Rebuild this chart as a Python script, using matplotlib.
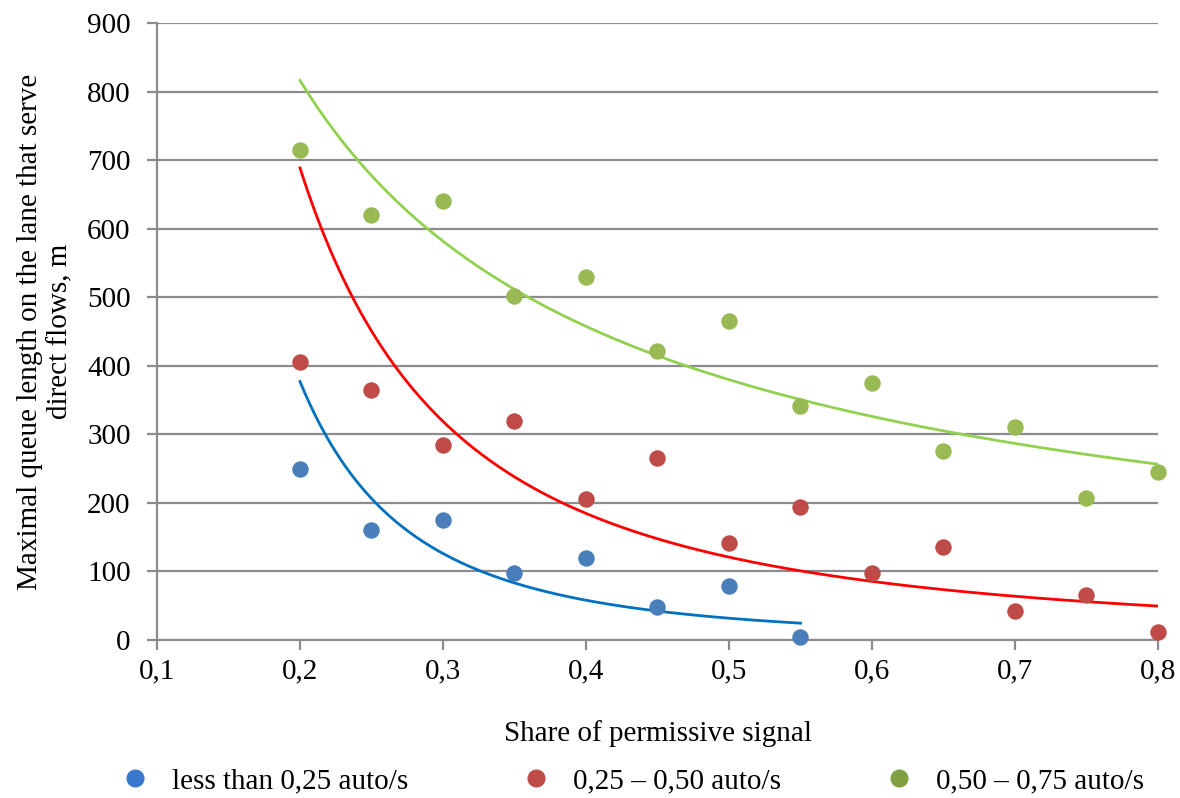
import numpy as np
import matplotlib.pyplot as plt
from matplotlib.lines import Line2D

plt.rcParams['font.family'] = ['Liberation Serif', 'DejaVu Serif']

share = [0.2, 0.25, 0.3, 0.35, 0.4, 0.45, 0.5, 0.55, 0.6, 0.65, 0.7, 0.75, 0.8]
queue_low = [250, 160, 175, 98, 120, 48, 79, 5]
queue_mid = [405, 365, 285, 320, 205, 265, 141, 194, 98, 135, 42, 65, 12]
queue_high = [715, 620, 640, 502, 530, 421, 465, 341, 375, 276, 311, 207, 245]

labels = ['less than 0,25 auto/s', '0,25 – 0,50 auto/s', '0,50 – 0,75 auto/s']
point_colors = ['#4a7ebb', '#be4b48', '#98b954']
legend_colors = ['#3a78d0', '#be4b48', '#80a040']
line_colors = ['#0070c0', '#ff0000', '#92d050']
x_ticks = [0.1, 0.2, 0.3, 0.4, 0.5, 0.6, 0.7, 0.8]
y_ticks = [0, 100, 200, 300, 400, 500, 600, 700, 800, 900]

FS = 21

fig = plt.figure(figsize=(11.8, 7.98), dpi=100)
ax = fig.add_axes([157 / 1180, 1 - 640 / 798, (1158 - 157) / 1180, (640 - 23) / 798])

series = [queue_low, queue_mid, queue_high]
for ys, pc, lc in zip(series, point_colors, line_colors):
    xs = np.array(share[:len(ys)])
    ys = np.array(ys, dtype=float)
    ax.scatter(xs, ys, s=140, color=pc, zorder=3, linewidths=0, clip_on=False)
    # power trendline (log-log least squares, like Excel)
    b, ln_a = np.polyfit(np.log(xs), np.log(ys), 1)
    xf = np.linspace(xs.min(), xs.max(), 200)
    ax.plot(xf, np.exp(ln_a) * xf ** b, color=lc, lw=2, zorder=2)

ax.set_xlim(0.1, 0.8)
ax.set_ylim(0, 900)
ax.set_xticks(x_ticks)
ax.set_xticklabels([f'{t:.1f}'.replace('.', ',') for t in x_ticks])
ax.set_yticks(y_ticks)
ax.grid(axis='y', color='#8c8c8c', lw=1.6)
ax.set_axisbelow(True)
for side in ['top', 'right']:
    ax.spines[side].set_visible(False)
for side in ['left', 'bottom']:
    ax.spines[side].set_color('#8c8c8c')
    ax.spines[side].set_linewidth(1.6)
ax.tick_params(axis='both', colors='#8c8c8c', labelcolor='black', labelsize=FS,
               length=7, width=1.6)
ax.tick_params(axis='x', pad=6)
ax.tick_params(axis='y', pad=12)

ax.set_xlabel('Share of permissive signal', fontsize=FS, labelpad=26)
ax.set_ylabel('Maximal queue length on the lane that serve\ndirect flows, m',
              fontsize=FS, labelpad=10)

# legend entries spread out along the bottom, one legend per entry
marker_x = [135, 536, 899]
for mx, c, lab in zip(marker_x, legend_colors, labels):
    h = Line2D([], [], marker='o', ls='', color=c, markersize=12)
    fig.legend([h], [lab], loc='center left',
               bbox_to_anchor=((mx - 14.5) / 1180, 1 - 781 / 798),
               frameon=False, fontsize=FS, handlelength=1.0, handletextpad=0.78,
               borderpad=0, borderaxespad=0)

fig.savefig('out.png', dpi=100)
